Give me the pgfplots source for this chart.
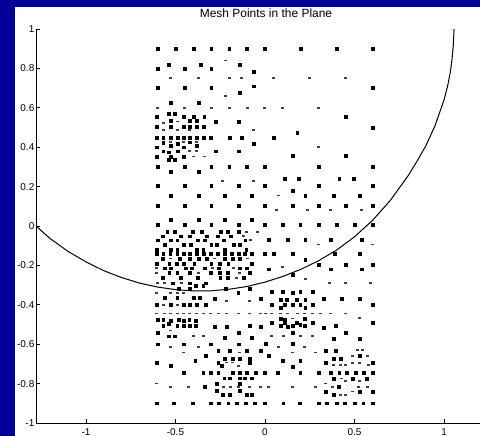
\documentclass[border=0pt]{standalone}
\usepackage{fontspec}
\setmainfont{Liberation Sans}
\usepackage{pgfplots}
\pgfplotsset{compat=1.18}
\definecolor{slide}{RGB}{0,0,153}
\begin{document}
\begin{tikzpicture}[x=1bp,y=1bp]
\useasboundingbox (0,0) rectangle (480,436);
\clip (0,0) rectangle (480,436);
\fill[slide] (0,0) rectangle (480,436);
\fill[white] (15,0) rectangle (480,429);
\node[font=\fontsize{12}{12}\selectfont, anchor=center, inner sep=0pt] at (266,423) {Mesh Points in the Plane};
\begin{axis}[
  at={(36bp,13bp)}, anchor=south west,
  scale only axis, width=444bp, height=394bp,
  xmin=-1.279, xmax=1.201, ymin=-1, ymax=1,
  axis x line=bottom, axis y line=left,
  axis line style={-, black, line width=0.8bp},
  x axis line style={-}, y axis line style={-},
  tick align=inside, major tick length=4bp,
  tick style={black, line width=0.8bp},
  xtick={-1,-0.5,0,0.5,1},
  ytick={-1,-0.8,-0.6,-0.4,-0.2,0,0.2,0.4,0.6,0.8,1},
  /pgf/number format/assume math mode=true,
  ticklabel style={font=\fontsize{10}{10}\selectfont},
  yticklabel style={inner sep=1.5bp},
  xticklabel style={inner sep=0pt, yshift=-5bp},
]
% full dots
\addplot[only marks, mark=square*, mark size=1.4bp, black] coordinates {
(-0.6,0.9) (-0.5,0.9) (-0.4,0.9) (-0.3,0.9) (-0.2,0.9) (-0.1,0.9) (0,0.9) (0.2,0.9) (0.4,0.9) (0.6,0.9)
(-0.54,0.82) (-0.36,0.82) (-0.14,0.82)
(-0.6,0.80) (-0.45,0.80) (-0.3,0.80) (-0.065,0.785)
(-0.6,0.70) (-0.45,0.70) (-0.3,0.70) (-0.065,0.71) (0.6,0.70)
(-0.14,0.675)
(-0.525,0.625) (-0.37,0.625)
(0.45,0.555) (0.6,0.5) (0.18,0.475) (0.05,0.45) (0.155,0.355) (0.45,0.355)
(-0.54,0.572) (-0.506,0.572)
(-0.605,0.555) (-0.456,0.555) (-0.40,0.555) (-0.339,0.555)
(-0.525,0.535) (-0.419,0.535) (-0.382,0.535) (-0.275,0.53) (-0.145,0.53)
(-0.605,0.502) (-0.525,0.502) (-0.456,0.502) (-0.419,0.502) (-0.382,0.502) (-0.344,0.502)
(-0.605,0.448) (-0.568,0.448) (-0.525,0.448) (-0.488,0.448) (-0.456,0.448) (-0.419,0.448) (-0.382,0.448) (-0.344,0.448) (-0.303,0.448) (-0.199,0.448) (-0.13,0.448)
(-0.568,0.422) (-0.488,0.418) (-0.419,0.425) (-0.065,0.418)
(-0.605,0.40) (-0.525,0.406) (-0.456,0.40) (-0.382,0.406)
(-0.568,0.38) (-0.54,0.375) (-0.488,0.38) (-0.275,0.38) (-0.145,0.38)
(-0.605,0.353) (-0.525,0.353) (-0.456,0.353)
(-0.54,0.336) (-0.506,0.336)
(-0.6,0.3) (-0.45,0.3) (-0.3,0.3) (-0.2,0.3) (-0.1,0.3) (0,0.3) (0.3,0.3) (0.6,0.3)
(-0.525,0.275) (-0.37,0.275)
(0.11,0.24) (0.19,0.24) (0.415,0.24) (0.495,0.24)
(-0.6,0.205) (-0.45,0.205) (-0.3,0.205) (-0.145,0.205) (0,0.205) (0.3,0.205) (0.6,0.205)
(0.155,0.18)
(-0.525,0.155) (-0.372,0.155) (-0.223,0.155) (-0.074,0.155) (0.225,0.155) (0.384,0.155) (0.527,0.155)
(-0.6,0.105) (-0.45,0.105) (-0.3,0.105) (-0.145,0.105) (0,0.105) (0.155,0.105) (0.3,0.105) (0.45,0.105) (0.6,0.105)
(-0.525,0.03) (-0.372,0.03) (-0.223,0.03) (-0.074,0.03)
(-0.6,0.005) (-0.45,0.005) (-0.3,0.005) (-0.145,0.005) (0,0.005) (0.1,0.005) (0.197,0.005) (0.3,0.005) (0.4,0.005) (0.5,0.005) (0.6,0.005)
(-0.546,-0.03) (-0.506,-0.03) (-0.404,-0.03) (-0.354,-0.03) (-0.246,-0.03) (-0.21,-0.03) (-0.145,-0.03)
(-0.57,-0.052) (-0.47,-0.052) (-0.42,-0.052) (-0.325,-0.052) (-0.266,-0.052) (-0.19,-0.052)
(-0.60,-0.072) (-0.525,-0.072) (-0.49,-0.072) (-0.375,-0.072) (-0.335,-0.072) (-0.23,-0.072) (-0.11,-0.072)
(-0.56,-0.095) (-0.455,-0.095) (-0.415,-0.095) (-0.30,-0.095) (-0.27,-0.095) (-0.175,-0.095) (-0.14,-0.095)
(-0.605,-0.12) (-0.525,-0.12) (-0.49,-0.12) (-0.38,-0.12) (-0.345,-0.12) (-0.225,-0.12) (-0.105,-0.12)
(-0.605,-0.141) (-0.568,-0.141) (-0.53,-0.141) (-0.49,-0.141) (-0.456,-0.141) (-0.419,-0.141) (-0.382,-0.141) (-0.344,-0.141) (-0.303,-0.141) (-0.266,-0.141) (-0.225,-0.141) (-0.186,-0.141) (-0.145,-0.141) (-0.112,-0.141) (-0.075,-0.141)
(-0.57,-0.165) (-0.475,-0.165) (-0.42,-0.165) (-0.37,-0.165) (-0.325,-0.165) (-0.225,-0.165) (-0.18,-0.165) (-0.14,-0.165)
(-0.605,-0.19) (-0.535,-0.19) (-0.495,-0.19) (-0.455,-0.19) (-0.395,-0.19) (-0.3,-0.19) (-0.255,-0.19) (-0.205,-0.19) (-0.075,-0.19)
(-0.56,-0.214) (-0.525,-0.214) (-0.445,-0.214) (-0.41,-0.214) (-0.335,-0.214) (-0.26,-0.214) (-0.14,-0.214) (-0.10,-0.214)
(-0.535,-0.239) (-0.49,-0.239) (-0.42,-0.239) (-0.305,-0.239) (-0.255,-0.239) (-0.21,-0.239) (-0.085,-0.239)
(-0.57,-0.264) (-0.47,-0.264) (-0.375,-0.264) (-0.25,-0.264) (-0.21,-0.264) (-0.12,-0.264)
(-0.515,-0.29) (-0.42,-0.29) (-0.33,-0.29)
(-0.385,-0.305) (-0.345,-0.305) (-0.48,-0.32) (-0.42,-0.32) (-0.22,-0.318) (-0.15,-0.34) (-0.084,-0.318)
(0.021,-0.07) (0.128,-0.07) (0.225,-0.07) (0.365,-0.07) (0.538,-0.07)
(0,-0.142) (0.048,-0.142) (0.155,-0.142) (0.39,-0.142) (0.527,-0.142) (0.225,-0.17)
(0.30,-0.197) (0.45,-0.197) (0.60,-0.197) (0.021,-0.219) (0.365,-0.219) (0.538,-0.219)
(0.155,-0.247)
(-0.559,-0.365) (-0.49,-0.365) (-0.40,-0.365) (-0.363,-0.365) (-0.279,-0.37) (-0.024,-0.37)
(-0.605,-0.40) (-0.525,-0.40) (-0.456,-0.40) (-0.419,-0.40) (-0.382,-0.40) (-0.33,-0.40)
(0.086,-0.374) (0.12,-0.374) (0.179,-0.374) (0.225,-0.374) (0.328,-0.37) (0.427,-0.37) (0.527,-0.37)
(0.039,-0.40) (0.110,-0.40) (0.155,-0.40) (0.197,-0.40) (0.266,-0.40) (0.602,-0.40)
(0.086,-0.413) (0.225,-0.413)
(-0.601,-0.475) (-0.568,-0.475) (-0.525,-0.48) (-0.48,-0.475) (-0.453,-0.48) (-0.423,-0.475) (-0.385,-0.48)
(-0.54,-0.495)
(-0.568,-0.508) (-0.49,-0.508) (-0.456,-0.505) (-0.419,-0.508) (-0.385,-0.508) (-0.279,-0.51) (-0.214,-0.51) (-0.084,-0.508) (-0.024,-0.51)
(-0.601,-0.542) (-0.149,-0.542)
(-0.54,-0.559) (-0.506,-0.559)
(-0.223,-0.568) (-0.074,-0.568)
(0.039,-0.332) (0.101,-0.332) (0.155,-0.34) (0.197,-0.332) (0.266,-0.332)
(0.086,-0.47) (0.11,-0.475) (0.222,-0.47)
(0.039,-0.492) (0.110,-0.492) (0.179,-0.49) (0.197,-0.5) (0.266,-0.492) (0.602,-0.492)
(0.086,-0.508) (0.128,-0.51) (0.155,-0.505) (0.222,-0.508) (0.393,-0.508) (0.328,-0.517)
(0.155,-0.54) (0.452,-0.54)
(0.384,-0.571) (0.527,-0.571)
(-0.601,-0.60) (-0.453,-0.60) (-0.303,-0.60) (-0.149,-0.60) (0.002,-0.598) (0.155,-0.598)
(-0.261,-0.631) (-0.195,-0.631) (-0.102,-0.631) (-0.024,-0.631) (0.337,-0.631) (0.393,-0.631)
(-0.33,-0.66) (0.021,-0.66) (0.527,-0.66)
(-0.223,-0.672) (-0.18,-0.672) (-0.14,-0.672) (-0.084,-0.672) (0.384,-0.672) (0.421,-0.672)
(-0.39,-0.682) (0.101,-0.682) (0.197,-0.682)
(-0.605,-0.693) (-0.261,-0.693) (-0.084,-0.693) (0.337,-0.695) (0.602,-0.695)
(-0.525,-0.71) (-0.24,-0.71) (0.155,-0.716)
(-0.453,-0.744) (-0.345,-0.744) (-0.303,-0.744) (-0.261,-0.744) (-0.18,-0.744) (-0.143,-0.744) (-0.102,-0.744) (-0.05,-0.744) (0,-0.744) (0.073,-0.744) (0.197,-0.744) (0.30,-0.744) (0.365,-0.744) (0.415,-0.744) (0.458,-0.744) (0.508,-0.744) (0.55,-0.744) (0.602,-0.744)
(-0.228,-0.773) (-0.195,-0.773) (-0.143,-0.773) (-0.112,-0.773) (-0.074,-0.773) (0.384,-0.775) (0.49,-0.775) (0.57,-0.775)
(-0.27,-0.80) (-0.14,-0.80)
(-0.335,-0.817) (0.41,-0.817)
(-0.27,-0.837) (-0.14,-0.837) (0.337,-0.84) (0.527,-0.84) (0.602,-0.84)
(-0.237,-0.857) (-0.195,-0.857) (-0.102,-0.857) (-0.074,-0.857) (0.384,-0.857)
(-0.605,-0.9) (-0.508,-0.9) (-0.406,-0.9) (-0.303,-0.9) (-0.26,-0.9) (-0.205,-0.9) (-0.158,-0.9) (-0.106,-0.9) (-0.056,-0.9) (0,-0.9) (0.102,-0.9) (0.196,-0.9) (0.298,-0.9) (0.345,-0.9) (0.40,-0.9) (0.447,-0.9) (0.499,-0.9) (0.549,-0.9) (0.602,-0.9)
};
% faint dashes
\addplot[only marks, mark=-, mark size=1.5bp, black!75, mark options={line width=1.6bp}] coordinates {
(-0.22,0.84)
(-0.525,0.75) (-0.37,0.75) (-0.2,0.75) (-0.13,0.75) (0.05,0.75) (0.25,0.75) (0.45,0.75)
(-0.22,0.66)
(-0.6,0.6) (-0.45,0.6) (-0.3,0.6) (-0.2,0.6) (-0.1,0.6) (0,0.6) (0.1,0.6) (0.3,0.6)
(0.3,0.40)
(-0.568,0.522) (-0.488,0.53) (-0.568,0.488) (-0.488,0.488) (-0.419,0.488) (-0.065,0.488)
(-0.525,0.425) (-0.456,0.425) (-0.382,0.425) (-0.419,0.38) (-0.382,0.38) (-0.40,0.353) (-0.339,0.353)
(-0.236,0.228) (-0.065,0.228)
(0.073,0.155)
(0.067,0.08) (0.24,0.08) (0.365,0.08) (0.538,0.08)
(-0.102,-0.03) (-0.043,-0.03) (-0.121,-0.052) (-0.08,-0.072) (0.30,-0.093) (0.60,-0.093)
(-0.525,-0.165) (-0.28,-0.165) (-0.10,-0.165)
(-0.605,-0.214) (-0.295,-0.214) (-0.175,-0.214) (0.095,-0.209)
(-0.605,-0.239) (-0.37,-0.239) (-0.145,-0.239)
(-0.16,-0.264) (0.225,-0.268)
(-0.60,-0.29) (-0.56,-0.29) (-0.465,-0.29) (0.36,-0.29) (0.45,-0.29) (0.59,-0.29)
(-0.605,-0.34) (-0.525,-0.34) (-0.49,-0.34) (-0.453,-0.34)
(-0.084,-0.38) (-0.214,-0.38)
(-0.568,-0.40) (-0.488,-0.40)
(-0.605,-0.444) (-0.559,-0.444) (-0.525,-0.444) (-0.49,-0.444) (-0.453,-0.444) (-0.419,-0.444) (-0.385,-0.444) (-0.345,-0.444) (-0.303,-0.444) (-0.261,-0.444) (-0.214,-0.444) (-0.149,-0.444) (-0.084,-0.444) (-0.024,-0.444) (0.002,-0.444) (0.039,-0.444) (0.086,-0.444) (0.128,-0.444) (0.179,-0.444) (0.222,-0.444) (0.266,-0.444) (0.31,-0.444) (0.365,-0.444) (0.452,-0.444)
(-0.525,-0.53)
(-0.40,-0.559) (-0.345,-0.559)
(0.155,-0.47) (0.527,-0.466)
(0.039,-0.559) (0.101,-0.559) (0.197,-0.559) (0.266,-0.559)
(-0.525,-0.615) (-0.372,-0.615) (0.073,-0.615) (0.222,-0.615)
(0.514,-0.628) (0.545,-0.628)
(-0.453,-0.643) (-0.14,-0.643) (0.155,-0.643) (0.281,-0.643)
(0.49,-0.66) (0.57,-0.66)
(-0.214,-0.693) (-0.18,-0.693) (0.49,-0.695) (0.527,-0.695)
(-0.149,-0.71) (0.384,-0.705) (0.421,-0.705) (0.452,-0.705) (0.578,-0.705)
(0.427,-0.775)
(-0.605,-0.80) (0.452,-0.788) (0.53,-0.788) (0.337,-0.80)
(-0.525,-0.817) (-0.43,-0.817) (-0.232,-0.817) (-0.195,-0.817) (-0.149,-0.817) (-0.084,-0.817) (-0.024,-0.817) (0.021,-0.817) (0.155,-0.817) (0.281,-0.817) (0.375,-0.817) (0.52,-0.817) (0.57,-0.817)
(0.49,-0.84)
(0.421,-0.857) (0.452,-0.857)
};
% boundary curve
\addplot[black, line width=1bp] coordinates {
(-1.279,0) (-1.2,-0.064) (-1.1,-0.129) (-1.0,-0.182) (-0.9,-0.227) (-0.8,-0.262) (-0.7,-0.29) (-0.6,-0.31) (-0.5,-0.323) (-0.4,-0.33) (-0.3,-0.329) (-0.2,-0.321) (-0.1,-0.307) (0,-0.285) (0.1,-0.256) (0.2,-0.22) (0.3,-0.176) (0.4,-0.122) (0.5,-0.055) (0.6,0.028) (0.7,0.13) (0.8,0.256) (0.85,0.33) (0.9,0.41) (0.95,0.51) (1.0,0.64) (1.02,0.71) (1.035,0.78) (1.045,0.85) (1.052,0.92) (1.056,1.0)
};
\end{axis}
\end{tikzpicture}
\end{document}
